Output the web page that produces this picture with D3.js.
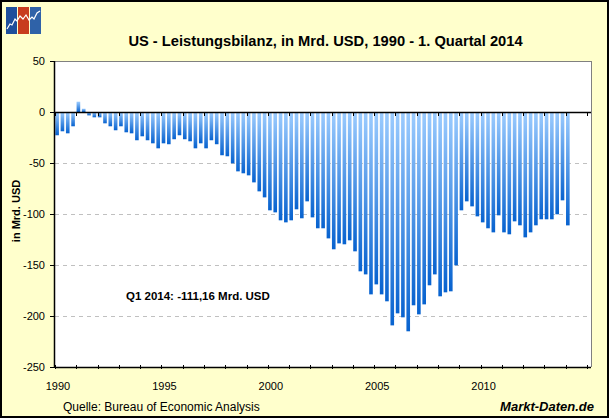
<!DOCTYPE html>
<html>
<head>
<meta charset="utf-8">
<script src="https://cdn.jsdelivr.net/npm/d3@7"></script>
<style>
  html, body { margin: 0; padding: 0; background: #fff; }
  svg { display: block; }
  text { font-family: "Liberation Sans", Arial, sans-serif; }
</style>
</head>
<body>
<svg id="chart" width="609" height="418"></svg>
<script>
// ---- data ----
const startYear = 1990;
const quarterLabels = ["Q1", "Q2", "Q3", "Q4"];
const values = [
  // 1990
  -22.8, -18.9, -20.9, -14.0,
  // 1991
  10.1, 3.2, -3.3, -5.2,
  // 1992
  -5.2, -11.1, -14.0, -17.9,
  // 1993
  -14.0, -19.9, -20.9, -27.7,
  // 1994
  -23.8, -27.7, -30.7, -35.6,
  // 1995
  -30.7, -31.6, -26.7, -22.8,
  // 1996
  -26.7, -28.7, -35.6, -30.7,
  // 1997
  -35.6, -27.7, -31.6, -42.4,
  // 1998
  -43.4, -50.3, -58.2, -60.1,
  // 1999
  -62.1, -69.0, -77.8, -83.7,
  // 2000
  -96.4, -98.4, -106.2, -108.2,
  // 2001
  -106.2, -95.4, -104.2, -87.6,
  // 2002
  -103.3, -114.0, -114.0, -123.9,
  // 2003
  -134.6, -128.8, -129.7, -125.8,
  // 2004
  -136.6, -156.2, -159.2, -178.8,
  // 2005
  -169.0, -178.8, -185.6, -209.2,
  // 2006
  -197.4, -201.3, -215.0, -189.5,
  // 2007
  -198.4, -188.6, -169.9, -159.2,
  // 2008
  -180.7, -176.8, -175.8, -150.3,
  // 2009
  -96.4, -87.6, -92.5, -102.3,
  // 2010
  -108.2, -114.0, -118.0, -101.3,
  // 2011
  -118.0, -119.9, -107.2, -111.1,
  // 2012
  -122.9, -118.0, -111.1, -105.2,
  // 2013
  -105.2, -105.2, -100.3, -86.6,
  // 2014
  -111.16
];
const yTicks = [50, 0, -50, -100, -150, -200, -250];
const gridValues = [-50, -100, -150, -200];
const xTickYears = d3.range(1990, 2016);
const xLabelYears = [1990, 1995, 2000, 2005, 2010];
const titleText = "US - Leistungsbilanz, in Mrd. USD, 1990 - 1. Quartal 2014";
const yAxisTitle = "in Mrd. USD";
const annotationText = "Q1 2014: -111,16 Mrd. USD";
const sourceText = "Quelle: Bureau of Economic Analysis";
const brandText = "Markt-Daten.de";

const data = values.map((v, i) => ({ t: startYear + i * 0.25, v }));

// ---- layout ----
const svg = d3.select("#chart");
const plot = { left: 55, right: 591, top: 61, bottom: 367 };

const x = d3.scaleLinear().domain([1990, 2015]).range([55, 587]);
const y = d3.scaleLinear().domain([-250, 50]).range([plot.bottom, plot.top]);
const step = x(1990.25) - x(1990);
const barW = step * 0.68;

// background + border
svg.append("rect").attr("x", 0).attr("y", 0).attr("width", 609).attr("height", 418)
  .attr("fill", "#FFFFCC");
svg.append("rect").attr("x", 1).attr("y", 1).attr("width", 607).attr("height", 416)
  .attr("fill", "none").attr("stroke", "#000").attr("stroke-width", 2);

// logo
const logo = svg.append("g").attr("transform", "translate(6,7)");
logo.append("rect").attr("x", 0).attr("y", 0).attr("width", 11).attr("height", 27).attr("fill", "#1E4F9C");
logo.append("rect").attr("x", 12).attr("y", 0).attr("width", 11).attr("height", 27).attr("fill", "#C83C1E");
logo.append("rect").attr("x", 24).attr("y", 0).attr("width", 11).attr("height", 27).attr("fill", "#2F62A8");
logo.append("polyline")
  .attr("points", "1,22 4,17 6,18 9,12 11,14 14,9 17,12 20,8 23,13 26,10 28,12 31,6 34,4")
  .attr("fill", "none").attr("stroke", "#fff").attr("stroke-width", 1.2);

// title
svg.append("text").attr("x", 325.5).attr("y", 46).attr("text-anchor", "middle")
  .attr("font-size", 14.7).attr("font-weight", "bold").attr("fill", "#000")
  .text(titleText);

// plot area
svg.append("rect").attr("x", plot.left).attr("y", plot.top)
  .attr("width", plot.right - plot.left).attr("height", plot.bottom - plot.top)
  .attr("fill", "#FFFFFF");
svg.append("line").attr("x1", plot.left).attr("x2", plot.right)
  .attr("y1", plot.top + 0.5).attr("y2", plot.top + 0.5).attr("stroke", "#808080");
svg.append("line").attr("x1", plot.right + 0.5).attr("x2", plot.right + 0.5)
  .attr("y1", plot.top).attr("y2", plot.bottom).attr("stroke", "#808080");

// grid
svg.append("g").selectAll("line").data(gridValues).join("line")
  .attr("x1", plot.left).attr("x2", plot.right)
  .attr("y1", d => Math.round(y(d)) + 0.5).attr("y2", d => Math.round(y(d)) + 0.5)
  .attr("stroke", "#C0C0C0").attr("stroke-dasharray", "4,4");

// gradient
const defs = svg.append("defs");
const grad = defs.append("linearGradient").attr("id", "barGrad")
  .attr("x1", 0).attr("y1", 0).attr("x2", 0).attr("y2", 1);
grad.append("stop").attr("offset", "0%").attr("stop-color", "#9CCCFF");
grad.append("stop").attr("offset", "100%").attr("stop-color", "#0762CF");

// bars
svg.append("g").selectAll("rect").data(data).join("rect")
  .attr("x", d => x(d.t) + 0.3)
  .attr("width", barW)
  .attr("y", d => Math.min(y(d.v), y(0)))
  .attr("height", d => Math.abs(y(d.v) - y(0)))
  .attr("fill", "url(#barGrad)");

// zero axis line with ticks below
const y0 = Math.round(y(0)) + 0.5;
svg.append("line").attr("x1", plot.left).attr("x2", plot.right)
  .attr("y1", y0).attr("y2", y0).attr("stroke", "#000").attr("stroke-width", 1.5);
svg.append("g").selectAll("line").data(xTickYears).join("line")
  .attr("x1", d => Math.round(x(d)) + 0.5).attr("x2", d => Math.round(x(d)) + 0.5)
  .attr("y1", y0).attr("y2", y0 + 3.5).attr("stroke", "#000");

// bottom axis
const yb = Math.round(y(-250)) + 0.5;
svg.append("line").attr("x1", plot.left).attr("x2", plot.right)
  .attr("y1", yb).attr("y2", yb).attr("stroke", "#000").attr("stroke-width", 1.5);
svg.append("g").selectAll("line").data(xTickYears).join("line")
  .attr("x1", d => Math.round(x(d)) + 0.5).attr("x2", d => Math.round(x(d)) + 0.5)
  .attr("y1", yb - 2.5).attr("y2", yb + 1.5).attr("stroke", "#000");
svg.append("g").selectAll("text").data(xLabelYears).join("text")
  .attr("x", d => x(d) + 3).attr("y", 390).attr("text-anchor", "middle")
  .attr("font-size", 11).attr("fill", "#000").text(d => d);

// left axis
svg.append("line").attr("x1", plot.left - 0.5).attr("x2", plot.left - 0.5)
  .attr("y1", plot.top).attr("y2", plot.bottom).attr("stroke", "#000").attr("stroke-width", 1.5);
svg.append("g").selectAll("line").data(yTicks).join("line")
  .attr("x1", plot.left - 5).attr("x2", plot.left)
  .attr("y1", d => Math.round(y(d)) + 0.5).attr("y2", d => Math.round(y(d)) + 0.5)
  .attr("stroke", "#000");
svg.append("g").selectAll("text").data(yTicks).join("text")
  .attr("x", 45).attr("y", d => y(d) + 4).attr("text-anchor", "end")
  .attr("font-size", 11).attr("fill", "#000").text(d => d);

// y axis title
svg.append("text").attr("transform", "translate(20,211) rotate(-90)")
  .attr("text-anchor", "middle").attr("font-size", 11).attr("font-weight", "bold")
  .attr("fill", "#000").text(yAxisTitle);

// annotation
svg.append("text").attr("x", 126).attr("y", 300)
  .attr("font-size", 11.5).attr("font-weight", "bold").attr("fill", "#000")
  .text(annotationText);

// source & brand
svg.append("text").attr("x", 63).attr("y", 411)
  .attr("font-size", 12).attr("fill", "#000").text(sourceText);
svg.append("text").attr("x", 594).attr("y", 411).attr("text-anchor", "end")
  .attr("font-size", 13).attr("font-weight", "bold").attr("font-style", "italic")
  .attr("fill", "#000").text(brandText);
</script>
</body>
</html>
